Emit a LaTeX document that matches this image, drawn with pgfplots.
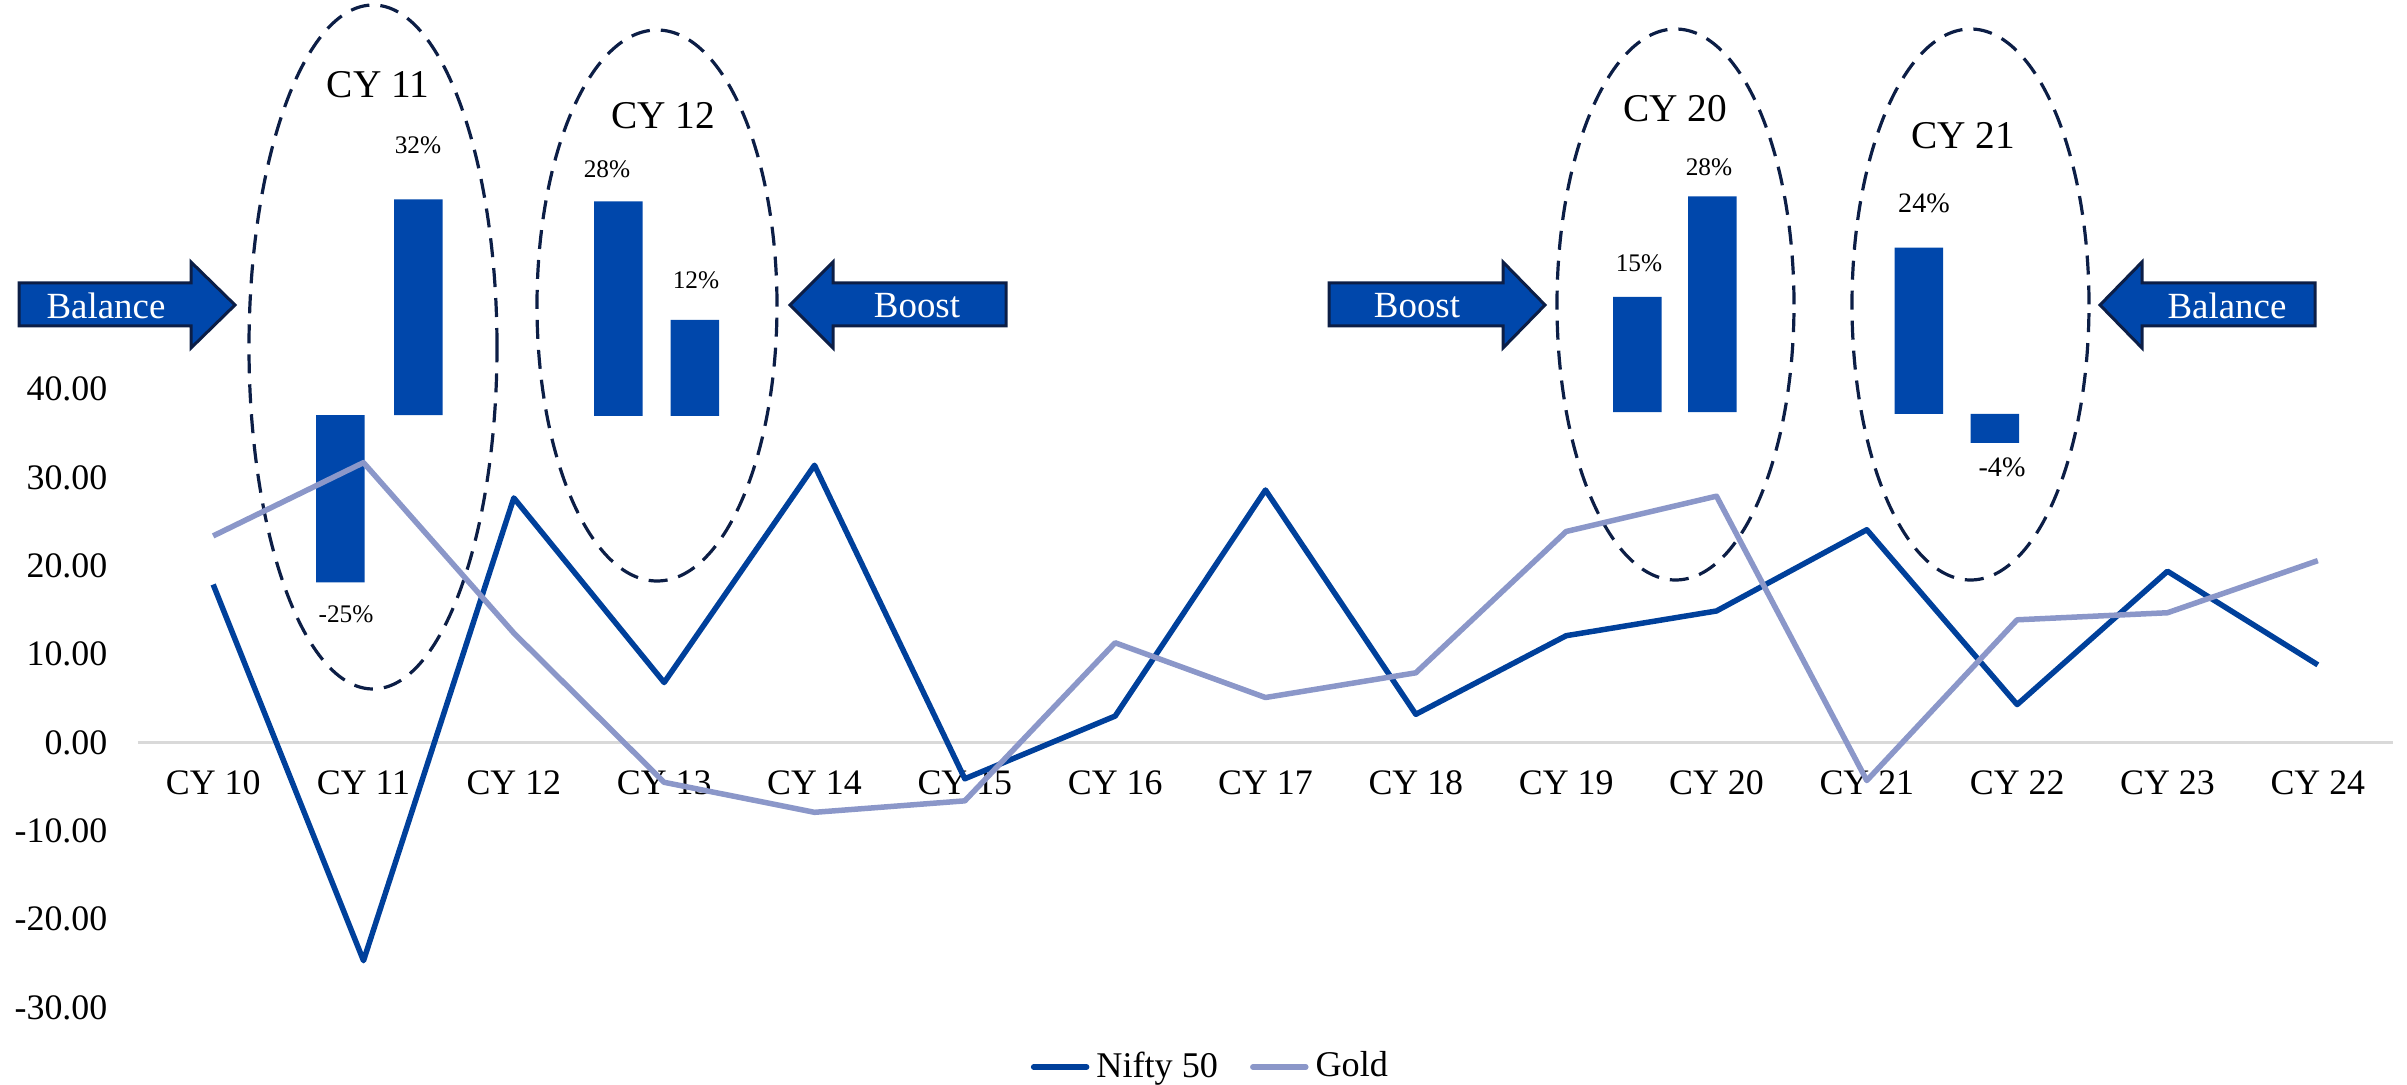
\documentclass[border=0pt]{standalone}
\usepackage{pgfplots}
\pgfplotsset{compat=1.18}
\usepackage{pgfplotstable}
\usepackage{fontspec}
\setmainfont{Liberation Serif}
\definecolor{nifty}{RGB}{0,64,155}
\definecolor{gold}{RGB}{139,151,201}
\definecolor{barblue}{RGB}{0,71,171}
\definecolor{navy}{RGB}{12,30,70}
\definecolor{axisgray}{RGB}{217,217,217}

\pgfplotstableread{
x nifty gold
0 17.9 23.4
1 -24.7 31.7
2 27.7 12.4
3 6.8 -4.5
4 31.4 -7.9
5 -4.1 -6.6
6 3.0 11.3
7 28.6 5.1
8 3.2 7.9
9 12.1 23.9
10 14.9 27.9
11 24.1 -4.3
12 4.3 13.9
13 19.4 14.7
14 8.8 20.6
}\maindata

\tikzset{
  ell/.style={draw=navy, line width=0.32mm, dash pattern=on 1.9mm off 1.1mm},
  blockarrow/.style={fill=barblue, draw=navy, line width=0.3mm, line join=miter},
  arrowtext/.style={text=white, font=\fontsize{10.5}{12}\selectfont, inner sep=0pt},
  cylab/.style={font=\fontsize{11.2}{13}\selectfont, inner sep=0pt},
  pct/.style={font=\fontsize{7.2}{8}\selectfont, inner sep=0pt},
  pctb/.style={font=\fontsize{8}{9}\selectfont, inner sep=0pt},
}
\pgfplotsset{
  inset/.style={anchor=south west, scale only axis, xmin=-0.5, xmax=1.5,
    ymin=-30, ymax=35, hide axis, clip=false, bar width=4.85mm},
}

\begin{document}
\begin{tikzpicture}[x=0.1mm, y=-0.1mm]
% ellipses
\draw[ell] (373,347) ellipse [x radius=12.4mm, y radius=34.2mm];
\draw[ell] (657,305.5) ellipse [x radius=12.0mm, y radius=27.55mm];
\draw[ell] (1675.5,304.5) ellipse [x radius=11.85mm, y radius=27.55mm];
\draw[ell] (1970.5,304.5) ellipse [x radius=11.85mm, y radius=27.55mm];

% block arrows
\filldraw[blockarrow] (19,283) -- (191,283) -- (191,262) -- (235,305) -- (191,348) -- (191,326) -- (19,326) -- cycle;
\filldraw[blockarrow] (1006,283) -- (833,283) -- (833,262) -- (790,305) -- (833,348) -- (833,326) -- (1006,326) -- cycle;
\filldraw[blockarrow] (1329,283) -- (1503,283) -- (1503,262) -- (1545,305) -- (1503,348) -- (1503,326) -- (1329,326) -- cycle;
\filldraw[blockarrow] (2315,283) -- (2142,283) -- (2142,262) -- (2100,305) -- (2142,348) -- (2142,326) -- (2315,326) -- cycle;
\node[arrowtext] at (106,306) {Balance};
\node[arrowtext] at (917,306) {Boost};
\node[arrowtext] at (1417,306) {Boost};
\node[arrowtext] at (2227,306) {Balance};

% inset bar charts
\begin{axis}[inset, at={(30.15mm,-61.9mm)}, width=15.6mm, height=44.2mm]
\addplot[ybar, fill=barblue, draw=none] coordinates {(0,-24.6) (1,31.7)};
\end{axis}
\begin{axis}[inset, at={(58.025mm,-64.85mm)}, width=15.3mm, height=50.375mm]
\addplot[ybar, fill=barblue, draw=none] coordinates {(0,27.7) (1,12.4)};
\end{axis}
\begin{axis}[inset, at={(160mm,-64.39mm)}, width=15.0mm, height=50.245mm]
\addplot[ybar, fill=barblue, draw=none] coordinates {(0,14.9) (1,27.9)};
\end{axis}
\begin{axis}[inset, at={(188.1mm,-62.1mm)}, width=15.2mm, height=44.85mm]
\addplot[ybar, fill=barblue, draw=none] coordinates {(0,24.1) (1,-4.2)};
\end{axis}

\node[cylab] at (378,85) {CY 11};
\node[pct] at (418,145) {32\%};
\node[pct] at (346,614) {-25\%};
\node[cylab] at (663,116) {CY 12};
\node[pct] at (607,169) {28\%};
\node[pct] at (696,280) {12\%};
\node[cylab] at (1675,109) {CY 20};
\node[pct] at (1639,263) {15\%};
\node[pct] at (1709,167) {28\%};
\node[cylab] at (1963,136) {CY 21};
\node[pctb] at (1924,203) {24\%};
\node[pctb] at (2002,467) {-4\%};

% main chart
\begin{axis}[at={(13.8mm,-100.75mm)}, anchor=south west, scale only axis,
  width=225.5mm, height=61.82mm,
  xmin=-0.5, xmax=14.5, ymin=-30, ymax=40,
  axis x line=middle, axis y line=left,
  x axis line style={-, draw=axisgray, line width=0.3mm},
  y axis line style={draw=none},
  hide obscured x ticks=false, hide obscured y ticks=false,
  xtick={0,...,14},
  xticklabels={CY 10,CY 11,CY 12,CY 13,CY 14,CY 15,CY 16,CY 17,CY 18,CY 19,CY 20,CY 21,CY 22,CY 23,CY 24},
  ytick={-30,-20,...,40},
  yticklabel={\pgfmathprintnumber[fixed,fixed zerofill,precision=2,assume math mode=true]{\tick}},
  major tick length=0pt,
  tick label style={font=\fontsize{10.2}{12}\selectfont, text=black},
  xticklabel style={anchor=north, inner sep=0pt, yshift=-2.7mm},
  yticklabel style={anchor=east, inner sep=0pt, xshift=-3mm},
  legend style={at={(axis description cs:0.4767,-0.0963)}, anchor=center,
    draw=none, fill=none, legend columns=2, font=\fontsize{10.3}{12}\selectfont,
    /tikz/every even column/.append style={column sep=2.5mm}},
  legend image code/.code={\draw[#1, line width=0.55mm, line cap=round] (0mm,0mm) -- (5.3mm,0mm);},
]
\addplot[nifty, line width=0.55mm, line join=round, mark=none] table[x=x, y=nifty] {\maindata};
\addlegendentry{Nifty 50}
\addplot[gold, line width=0.55mm, line join=round, mark=none] table[x=x, y=gold] {\maindata};
\addlegendentry{Gold}
\end{axis}

\pgfresetboundingbox
\useasboundingbox (0,0) rectangle (2407,1085);
\end{tikzpicture}
\end{document}
